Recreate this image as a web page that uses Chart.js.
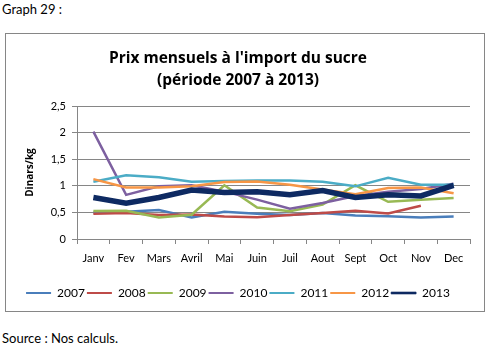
<!DOCTYPE html>
<html>
<head>
<meta charset="utf-8">
<script src="https://cdn.jsdelivr.net/npm/chart.js@4/dist/chart.umd.min.js"></script>
<style>
  html, body { margin: 0; padding: 0; background: #fff; }
  body { width: 488px; height: 346px; position: relative; overflow: hidden; font-family: Lato, sans-serif; color: #000; }
  .caption { position: absolute; left: 2px; font-size: 13px; }
  #top { top: 1px; }
  #source { top: 330px; }
  #frame { position: absolute; left: 5px; top: 33px; width: 478px; height: 277px; border: 1px solid #868686; }
  #frame canvas { position: absolute; left: 0; top: 0; }
</style>
</head>
<body>
<div class="caption" id="top">Graph 29 :</div>
<div id="frame"><canvas id="prix" width="478" height="277"></canvas></div>
<div class="caption" id="source">Source : Nos calculs.</div>
<script>
const months = ['Janv', 'Fev', 'Mars', 'Avril', 'Mai', 'Juin', 'Juil', 'Aout', 'Sept', 'Oct', 'Nov', 'Dec'];
const years = ['2007', '2008', '2009', '2010', '2011', '2012', '2013'];
const p2007 = [0.50, 0.51, 0.545, 0.405, 0.51, 0.475, 0.45, 0.49, 0.44, 0.43, 0.405, 0.425];
const p2008 = [0.475, 0.49, 0.45, 0.46, 0.425, 0.41, 0.45, 0.49, 0.53, 0.48, 0.625, null];
const p2009 = [0.525, 0.53, 0.405, 0.455, 1.01, 0.59, 0.52, 0.645, 1.01, 0.70, 0.74, 0.77];
const p2010 = [2.02, 0.83, 0.99, 1.01, 0.89, 0.74, 0.57, 0.675, 0.81, 0.89, 0.94, 1.04];
const p2011 = [1.075, 1.20, 1.16, 1.075, 1.09, 1.10, 1.10, 1.075, 0.99, 1.15, 1.02, 1.02];
const p2012 = [1.125, 0.97, 0.97, 0.99, 1.07, 1.08, 1.02, 0.93, 0.84, 0.96, 0.97, 0.86];
const p2013 = [0.78, 0.675, 0.78, 0.92, 0.875, 0.89, 0.83, 0.91, 0.78, 0.83, 0.81, 1.01];
const yTicks = [0, 0.5, 1, 1.5, 2, 2.5];

const series = [p2007, p2008, p2009, p2010, p2011, p2012, p2013];
const colors = ['#4A7EBB', '#BE4B48', '#98B954', '#7D60A0', '#4BACC6', '#F79646', '#0E2A62'];
const FONT = 'Lato, sans-serif';
const BOLD = '"Open Sans", sans-serif';

const datasets = series.map((values, i) => ({
  label: years[i],
  data: values,
  borderColor: colors[i],
  backgroundColor: colors[i],
  borderWidth: i === 6 ? 5.5 : 2.5,
  pointRadius: 0,
  tension: 0,
  fill: false,
  // later years are painted over earlier ones
  order: i === 6 ? 0 : 7 - i,
}));

new Chart(document.getElementById('prix'), {
  type: 'line',
  data: { labels: months, datasets },
  options: {
    responsive: false,
    animation: false,
    layout: { padding: { left: 0, right: 14, top: 0, bottom: 2 } },
    plugins: {
      tooltip: { enabled: false },
      title: {
        display: true,
        text: ["Prix mensuels à l'import du sucre", '(période 2007 à 2013)'],
        color: '#000',
        font: { family: BOLD, size: 15.5, weight: 'bold', lineHeight: 1.42 },
        padding: { top: 14, bottom: 14 },
      },
      legend: {
        position: 'bottom',
        labels: {
          color: '#000',
          font: { family: FONT, size: 12 },
          // thin bar swatches, the 2013 one gets an outline to look heavier
          boxWidth: 25,
          boxHeight: 2,
          padding: 2,
          generateLabels: (chart) => chart.data.datasets.map((ds, i) => ({
            text: ds.label,
            datasetIndex: i,
            strokeStyle: ds.borderColor,
            fillStyle: ds.borderColor,
            lineWidth: i === 6 ? 0.6 : 0,
            fontColor: '#000',
          })),
        },
      },
    },
    scales: {
      x: {
        offset: true,
        grid: { drawOnChartArea: false, drawTicks: true, tickLength: 5, color: '#868686', offset: true },
        border: { color: '#868686' },
        ticks: { color: '#000', font: { family: FONT, size: 11 }, padding: 8, maxRotation: 0, autoSkip: false },
        afterFit: (s) => { s.height = 46; },
      },
      y: {
        min: 0,
        max: 2.5,
        afterBuildTicks: (s) => { s.ticks = yTicks.map((v) => ({ value: v })); },
        grid: { color: '#868686', tickLength: 5 },
        border: { color: '#868686' },
        ticks: {
          color: '#000',
          font: { family: FONT, size: 11 },
          padding: 6,
          callback: (v) => String(v).replace('.', ','),
        },
        title: {
          display: true,
          text: 'Dinars/kg',
          color: '#000',
          font: { family: BOLD, size: 10, weight: 'bold' },
          padding: { top: 18, bottom: 4 },
        },
        afterFit: (s) => { s.width = 71; },
      },
    },
  },
});
</script>
</body>
</html>
